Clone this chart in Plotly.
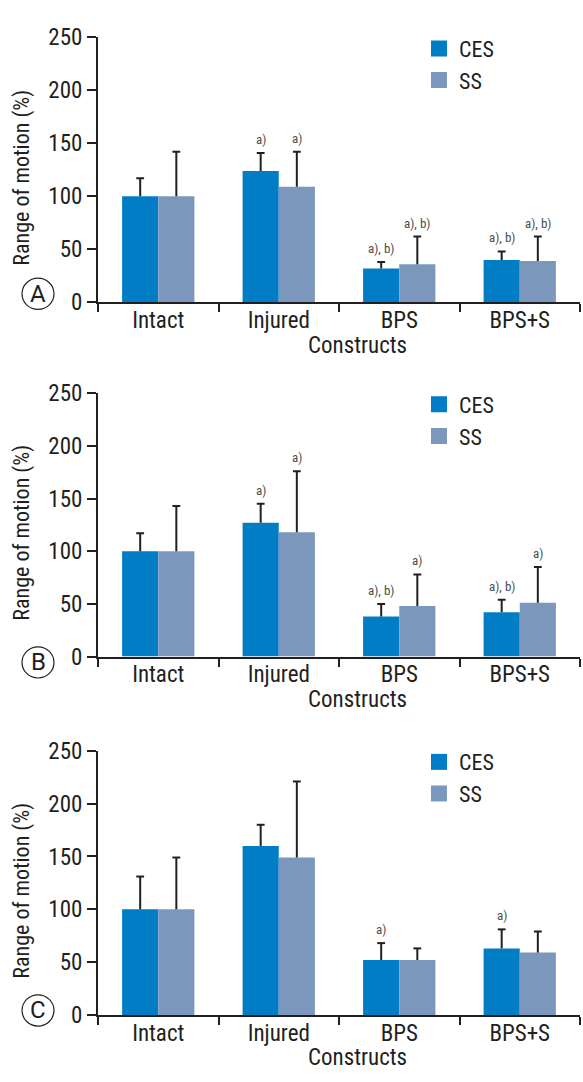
import plotly.graph_objects as go

# ---------------- data ----------------
categories = ["Intact", "Injured", "BPS", "BPS+S"]
series_names = ["CES", "SS"]
panel_letters = ["A", "B", "C"]
y_ticks = [0, 50, 100, 150, 200, 250]

a_ces = [100, 124, 32, 40]
a_ces_err = [17, 17, 6, 8]
a_ss = [100, 109, 36, 39]
a_ss_err = [42, 33, 26, 23]
a_ces_sig = ["", "a)", "a), b)", "a), b)"]
a_ss_sig = ["", "a)", "a), b)", "a), b)"]

b_ces = [100, 127, 38, 42]
b_ces_err = [17, 18, 12, 12]
b_ss = [100, 118, 48, 51]
b_ss_err = [43, 58, 30, 34]
b_ces_sig = ["", "a)", "a), b)", "a), b)"]
b_ss_sig = ["", "a)", "a)", "a)"]

c_ces = [100, 160, 52, 63]
c_ces_err = [31, 20, 16, 18]
c_ss = [100, 149, 52, 59]
c_ss_err = [49, 72, 11, 20]
c_ces_sig = ["", "", "a)", "a)"]
c_ss_sig = ["", "", "", ""]

# ---------------- style / layout ----------------
W, H = 583, 1082
FONT = "Roboto Condensed, Liberation Sans Narrow, sans-serif"
INK = "#231f20"
CES_COLOR = "#007dc5"
SS_COLOR = "#7b98bc"
SIG_COLOR = "#4d4d4f"

X_LEFT, X_RIGHT = 98, 580
# pixel rows of the 250 tick (top) and the 0 tick (bottom) for each panel
panel_px = [(25, 296.7), (390, 660), (756.7, 1027.6)]
circle_cy = [288, 666, 1023]


def px_x(p):
    return p / W


def px_y(p):
    return 1 - p / H


panels = [
    (a_ces, a_ces_err, a_ss, a_ss_err, a_ces_sig, a_ss_sig),
    (b_ces, b_ces_err, b_ss, b_ss_err, b_ces_sig, b_ss_sig),
    (c_ces, c_ces_err, c_ss, c_ss_err, c_ces_sig, c_ss_sig),
]

fig = go.Figure()
annotations = []
shapes = []
layout_axes = {}

cat_w = (X_RIGHT - X_LEFT) / len(categories)
bar_shift = cat_w * 0.6 / 4

for i, (ces, ces_err, ss, ss_err, ces_sig, ss_sig) in enumerate(panels):
    n = "" if i == 0 else str(i + 1)
    xa, ya = "x" + n, "y" + n
    leg = "legend" + n
    top, bot = panel_px[i]

    for name, vals, errs, color in [
        (series_names[0], ces, ces_err, CES_COLOR),
        (series_names[1], ss, ss_err, SS_COLOR),
    ]:
        grp = name + n
        # bars with the upward error stem (no caps, so no mark at the bar top)
        fig.add_trace(go.Bar(
            x=categories, y=vals, name=name, xaxis=xa, yaxis=ya,
            offsetgroup=grp, alignmentgroup="g" + n,
            marker=dict(color=color, line=dict(width=0)),
            error_y=dict(type="data", array=errs, arrayminus=[0] * len(errs),
                         symmetric=False, color=INK, thickness=2, width=0),
            showlegend=False, legendgroup=grp,
        ))
        # error-bar caps, grouped like the bars
        fig.add_trace(go.Scatter(
            x=categories, y=[v + e for v, e in zip(vals, errs)],
            xaxis=xa, yaxis=ya, mode="markers", name=name,
            offsetgroup=grp, alignmentgroup="g" + n,
            marker=dict(symbol="line-ew", size=5.6, color=INK,
                        line=dict(color=INK, width=2)),
            showlegend=False, legendgroup=grp, hoverinfo="skip",
        ))
        # legend swatch
        fig.add_trace(go.Scatter(
            x=[None], y=[None], mode="markers", name=name, xaxis=xa, yaxis=ya,
            offsetgroup=grp, alignmentgroup="g" + n,
            marker=dict(symbol="square", size=16, color=color, line=dict(width=0)),
            legend=leg, legendgroup=grp, showlegend=True,
        ))

    # significance labels
    for vals, errs, sigs, sh in [(ces, ces_err, ces_sig, -bar_shift), (ss, ss_err, ss_sig, bar_shift)]:
        for c, v, e, s in zip(categories, vals, errs, sigs):
            if s:
                annotations.append(dict(
                    x=c, y=v + e, xref=xa, yref=ya, text=s, showarrow=False,
                    xshift=sh, yshift=4, yanchor="bottom", xanchor="center",
                    font=dict(family=FONT, size=13, color=SIG_COLOR),
                ))

    layout_axes["xaxis" + n] = dict(
        domain=[px_x(X_LEFT), px_x(X_RIGHT)], anchor=ya,
        type="category", categoryorder="array", categoryarray=categories,
        range=[-0.5, len(categories) - 0.5],
        showline=True, linecolor=INK, linewidth=2,
        ticks="outside", tickson="boundaries", ticklen=8, tickwidth=2, tickcolor=INK,
        ticklabelstandoff=-4,
        tickfont=dict(family=FONT, size=23, color=INK),
        showgrid=False, zeroline=False, fixedrange=True,
    )
    layout_axes["yaxis" + n] = dict(
        domain=[px_y(bot), px_y(top)], anchor=xa,
        range=[0, 250], tickvals=y_ticks,
        showline=True, linecolor=INK, linewidth=2,
        ticks="outside", ticklen=9, tickwidth=2, tickcolor=INK,
        tickfont=dict(family=FONT, size=23, color=INK),
        showgrid=False, zeroline=False, fixedrange=True,
    )

    # legend
    layout_axes[leg] = dict(
        x=px_x(419), y=px_y(top - 10), xanchor="left", yanchor="top",
        bgcolor="rgba(0,0,0,0)", borderwidth=0,
        font=dict(family=FONT, size=22, color=INK),
        tracegroupgap=0, traceorder="grouped",
    )

    # y title
    annotations.append(dict(
        x=px_x(22), y=px_y((top + bot) / 2 + 8), xref="paper", yref="paper",
        text="Range of motion (%)", textangle=-90, showarrow=False,
        xanchor="center", yanchor="middle",
        font=dict(family=FONT, size=22, color=INK),
    ))
    # x title
    annotations.append(dict(
        x=px_x(357.5), y=px_y(bot + 44), xref="paper", yref="paper",
        text="Constructs", showarrow=False, xanchor="center", yanchor="middle",
        font=dict(family=FONT, size=23, color=INK),
    ))
    # circled panel letter
    cy = circle_cy[i]
    r = 16
    shapes.append(dict(
        type="circle", xref="paper", yref="paper",
        x0=px_x(38 - r), x1=px_x(38 + r), y0=px_y(cy + r), y1=px_y(cy - r),
        line=dict(color=INK, width=1.2),
    ))
    annotations.append(dict(
        x=px_x(38), y=px_y(cy), xref="paper", yref="paper",
        text=panel_letters[i], showarrow=False, xanchor="center", yanchor="middle",
        font=dict(family="Roboto, sans-serif", size=24, color=INK),
    ))

fig.update_layout(
    width=W, height=H, autosize=False,
    margin=dict(l=0, r=0, t=0, b=0),
    paper_bgcolor="white", plot_bgcolor="white",
    barmode="group", bargap=0.4, bargroupgap=0,
    scattermode="group", scattergap=0.4,
    font=dict(family=FONT, color=INK),
    annotations=annotations, shapes=shapes,
    **layout_axes,
)

fig.write_html(
    "out.html",
    config={"displayModeBar": False, "staticPlot": True},
    post_script="document.body.style.margin='0';document.body.style.overflow='hidden';",
)
